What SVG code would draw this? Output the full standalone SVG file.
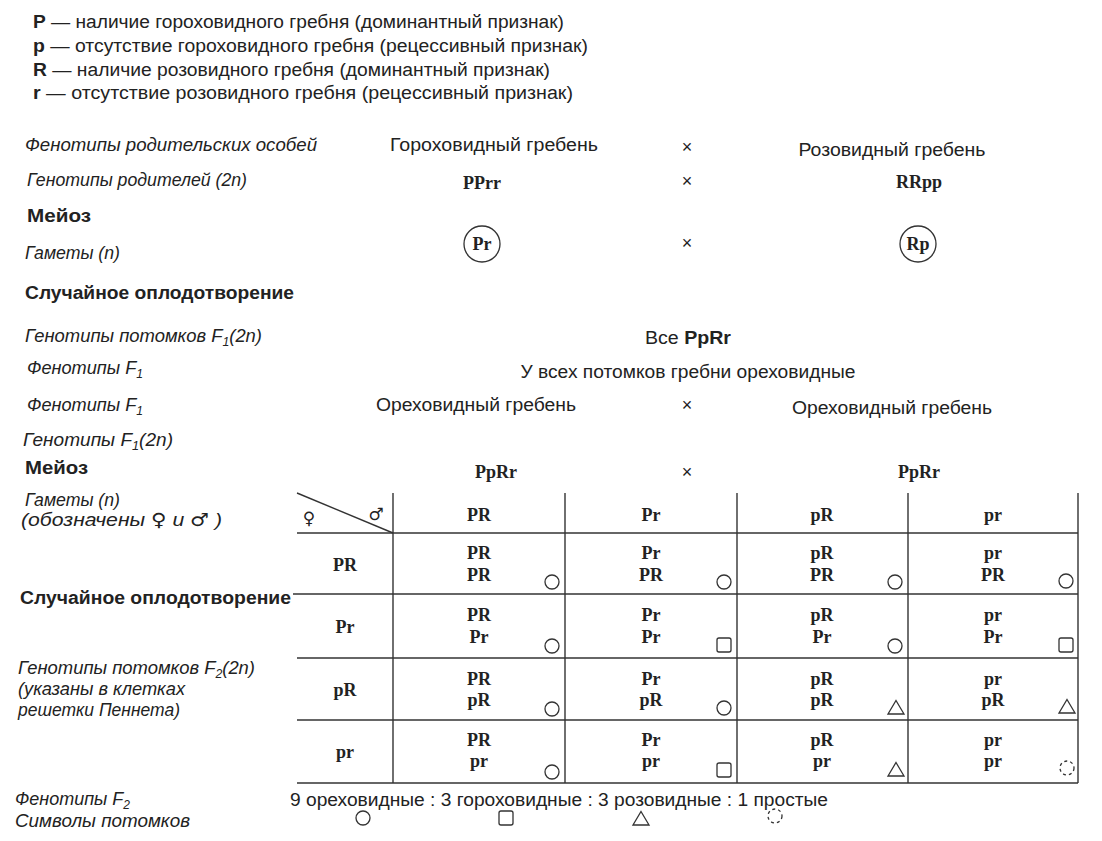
<svg xmlns="http://www.w3.org/2000/svg" width="1102" height="841" viewBox="0 0 1102 841">
<style>
text{fill:#222;}
.s{font-family:"Liberation Sans",Arial,sans-serif;font-size:18px;}
.i{font-family:"Liberation Sans",Arial,sans-serif;font-size:18px;font-style:italic;}
.b{font-family:"Liberation Sans",Arial,sans-serif;font-size:18px;font-weight:bold;}
.g{font-family:"Liberation Serif","Times New Roman",serif;font-size:18px;font-weight:bold;text-anchor:middle;}
.c{text-anchor:middle;}
.x{font-family:"Liberation Sans",Arial,sans-serif;font-size:18px;text-anchor:middle;}
.sub{font-size:12px;}
.ln{stroke:#333;stroke-width:1.4;fill:none;}
.sym{stroke:#333;stroke-width:1.3;fill:none;}
</style>
<rect width="1102" height="841" fill="#fff"/>
<defs>
<circle id="oc" r="7" class="sym"/>
<rect id="sq" x="-7" y="-7" width="14" height="14" rx="2" class="sym"/>
<polygon id="tr" points="0,-7.5 8,6 -8,6" class="sym"/>
<circle id="dc" r="7" class="sym" stroke-dasharray="3 3"/>
</defs>

<g id="legend">
<text class="s" x="33" y="28" font-size="17" textLength="531" lengthAdjust="spacingAndGlyphs"><tspan font-weight="bold">P</tspan> — наличие гороховидного гребня (доминантный признак)</text>
<text class="s" x="33" y="52" font-size="17" textLength="555" lengthAdjust="spacingAndGlyphs"><tspan font-weight="bold">p</tspan> — отсутствие гороховидного гребня (рецессивный признак)</text>
<text class="s" x="33" y="76" font-size="17" textLength="517" lengthAdjust="spacingAndGlyphs"><tspan font-weight="bold">R</tspan> — наличие розовидного гребня (доминантный признак)</text>
<text class="s" x="33" y="99" font-size="17" textLength="540" lengthAdjust="spacingAndGlyphs"><tspan font-weight="bold">r</tspan> — отсутствие розовидного гребня (рецессивный признак)</text>
</g>

<g id="parents">
<text class="i" x="25" y="151" textLength="292" lengthAdjust="spacingAndGlyphs">Фенотипы родительских особей</text>
<text class="s c" x="494" y="151" textLength="208" lengthAdjust="spacingAndGlyphs">Гороховидный гребень</text>
<text class="x" x="687" y="153">×</text>
<text class="s c" x="892" y="156" textLength="187" lengthAdjust="spacingAndGlyphs">Розовидный гребень</text>
<text class="i" x="27" y="186" textLength="220" lengthAdjust="spacingAndGlyphs">Генотипы родителей (2n)</text>
<text class="g" x="482" y="189">PPrr</text>
<text class="x" x="687" y="187">×</text>
<text class="g" x="919" y="188">RRpp</text>
<text class="b" x="27" y="222" textLength="64" lengthAdjust="spacingAndGlyphs">Мейоз</text>
<text class="i" x="25" y="259" textLength="95" lengthAdjust="spacingAndGlyphs">Гаметы (n)</text>
<circle cx="482" cy="244" r="18" class="sym"/>
<text class="g" x="482" y="250">Pr</text>
<text class="x" x="687" y="249">×</text>
<circle cx="918" cy="244" r="18" class="sym"/>
<text class="g" x="918" y="250">Rp</text>
<text class="b" x="25" y="299" textLength="269" lengthAdjust="spacingAndGlyphs">Случайное оплодотворение</text>
</g>

<g id="f1">
<text class="i" x="25" y="342" textLength="237" lengthAdjust="spacingAndGlyphs">Генотипы потомков F<tspan class="sub" dy="4">1</tspan><tspan dy="-4">(2n)</tspan></text>
<text class="s c" x="688" y="344" textLength="86" lengthAdjust="spacingAndGlyphs">Все <tspan font-weight="bold">PpRr</tspan></text>
<text class="i" x="27" y="374" textLength="116" lengthAdjust="spacingAndGlyphs">Фенотипы F<tspan class="sub" dy="4">1</tspan></text>
<text class="s c" x="688" y="378" textLength="335" lengthAdjust="spacingAndGlyphs">У всех потомков гребни ореховидные</text>
<text class="i" x="27" y="411" textLength="116" lengthAdjust="spacingAndGlyphs">Фенотипы F<tspan class="sub" dy="4">1</tspan></text>
<text class="s c" x="476" y="411" textLength="200" lengthAdjust="spacingAndGlyphs">Ореховидный гребень</text>
<text class="x" x="687" y="411">×</text>
<text class="s c" x="892" y="414" textLength="200" lengthAdjust="spacingAndGlyphs">Ореховидный гребень</text>
<text class="i" x="23" y="446" textLength="150" lengthAdjust="spacingAndGlyphs">Генотипы F<tspan class="sub" dy="4">1</tspan><tspan dy="-4">(2n)</tspan></text>
<text class="b" x="25" y="474" textLength="63" lengthAdjust="spacingAndGlyphs">Мейоз</text>
<text class="g" x="496" y="478">PpRr</text>
<text class="x" x="687" y="478">×</text>
<text class="g" x="919" y="478">PpRr</text>
</g>

<g id="side-labels">
<text class="i" x="25" y="506" textLength="95" lengthAdjust="spacingAndGlyphs">Гаметы (n)</text>
<text class="i" x="21" y="526" textLength="201" lengthAdjust="spacingAndGlyphs">(обозначены  <tspan font-family="DejaVu Sans" font-style="normal">♀</tspan> и <tspan font-family="DejaVu Sans" font-style="normal">♂</tspan> )</text>
<text class="b" x="20" y="604" textLength="271" lengthAdjust="spacingAndGlyphs">Случайное оплодотворение</text>
<text class="i" x="18" y="674" textLength="237" lengthAdjust="spacingAndGlyphs">Генотипы потомков F<tspan class="sub" dy="4">2</tspan><tspan dy="-4">(2n)</tspan></text>
<text class="i" x="18" y="695" textLength="167" lengthAdjust="spacingAndGlyphs">(указаны в клетках</text>
<text class="i" x="18" y="716" textLength="162" lengthAdjust="spacingAndGlyphs">решетки Пеннета)</text>
<text class="i" x="15" y="805" textLength="115" lengthAdjust="spacingAndGlyphs">Фенотипы F<tspan class="sub" dy="4">2</tspan></text>
<text class="i" x="15" y="827" textLength="175" lengthAdjust="spacingAndGlyphs">Символы потомков</text>
</g>

<g id="grid-lines">
<line class="ln" x1="297" y1="493" x2="393" y2="533"/>
<line class="ln" x1="297" y1="533" x2="1078" y2="533"/>
<line class="ln" x1="293" y1="594" x2="1078" y2="594"/>
<line class="ln" x1="297" y1="658" x2="1078" y2="658"/>
<line class="ln" x1="297" y1="720" x2="1078" y2="720"/>
<line class="ln" x1="297" y1="783" x2="1078" y2="783"/>
<line class="ln" x1="393" y1="493" x2="393" y2="783"/>
<line class="ln" x1="565" y1="493" x2="565" y2="783"/>
<line class="ln" x1="737" y1="493" x2="737" y2="783"/>
<line class="ln" x1="908" y1="493" x2="908" y2="783"/>
<line class="ln" x1="1078" y1="493" x2="1078" y2="783"/>
</g>

<g id="grid-header">
<text x="309" y="524" font-family="DejaVu Sans" font-size="17" text-anchor="middle">♀</text>
<text x="376" y="520" font-family="DejaVu Sans" font-size="17" text-anchor="middle">♂</text>
<text class="g" x="479" y="521">PR</text>
<text class="g" x="651" y="521">Pr</text>
<text class="g" x="822" y="521">pR</text>
<text class="g" x="993" y="521">pr</text>
</g>

<g id="row-PR">
<text class="g" x="345" y="571">PR</text>
<text class="g" x="479" y="559">PR</text><text class="g" x="479" y="581">PR</text>
<text class="g" x="651" y="559">Pr</text><text class="g" x="651" y="581">PR</text>
<text class="g" x="822" y="559">pR</text><text class="g" x="822" y="581">PR</text>
<text class="g" x="993" y="559">pr</text><text class="g" x="993" y="581">PR</text>
<use href="#oc" x="552" y="582"/><use href="#oc" x="724" y="582"/><use href="#oc" x="895" y="582"/><use href="#oc" x="1066" y="581"/>
</g>

<g id="row-Pr">
<text class="g" x="345" y="633">Pr</text>
<text class="g" x="479" y="621">PR</text><text class="g" x="479" y="643">Pr</text>
<text class="g" x="651" y="621">Pr</text><text class="g" x="651" y="643">Pr</text>
<text class="g" x="822" y="621">pR</text><text class="g" x="822" y="643">Pr</text>
<text class="g" x="993" y="621">pr</text><text class="g" x="993" y="643">Pr</text>
<use href="#oc" x="552" y="646"/><use href="#sq" x="724" y="645"/><use href="#oc" x="895" y="646"/><use href="#sq" x="1066" y="645"/>
</g>

<g id="row-pR">
<text class="g" x="345" y="696">pR</text>
<text class="g" x="479" y="685">PR</text><text class="g" x="479" y="706">pR</text>
<text class="g" x="651" y="685">Pr</text><text class="g" x="651" y="706">pR</text>
<text class="g" x="822" y="685">pR</text><text class="g" x="822" y="706">pR</text>
<text class="g" x="993" y="685">pr</text><text class="g" x="993" y="706">pR</text>
<use href="#oc" x="552" y="709"/><use href="#oc" x="724" y="708"/><use href="#tr" x="896" y="708"/><use href="#tr" x="1067" y="707"/>
</g>

<g id="row-pr">
<text class="g" x="345" y="758">pr</text>
<text class="g" x="479" y="746">PR</text><text class="g" x="479" y="767">pr</text>
<text class="g" x="651" y="746">Pr</text><text class="g" x="651" y="767">pr</text>
<text class="g" x="822" y="746">pR</text><text class="g" x="822" y="767">pr</text>
<text class="g" x="993" y="746">pr</text><text class="g" x="993" y="767">pr</text>
<use href="#oc" x="552" y="772"/><use href="#sq" x="724" y="770"/><use href="#tr" x="896" y="770"/><use href="#dc" x="1067" y="768"/>
</g>

<g id="f2-summary">
<text class="s" x="290" y="806" textLength="538" lengthAdjust="spacingAndGlyphs">9 ореховидные : 3 гороховидные : 3 розовидные : 1 простые</text>
<use href="#oc" x="363" y="818"/>
<use href="#sq" x="506" y="818"/>
<use href="#tr" x="641" y="819"/>
<use href="#dc" x="775" y="816"/>
</g>
</svg>
